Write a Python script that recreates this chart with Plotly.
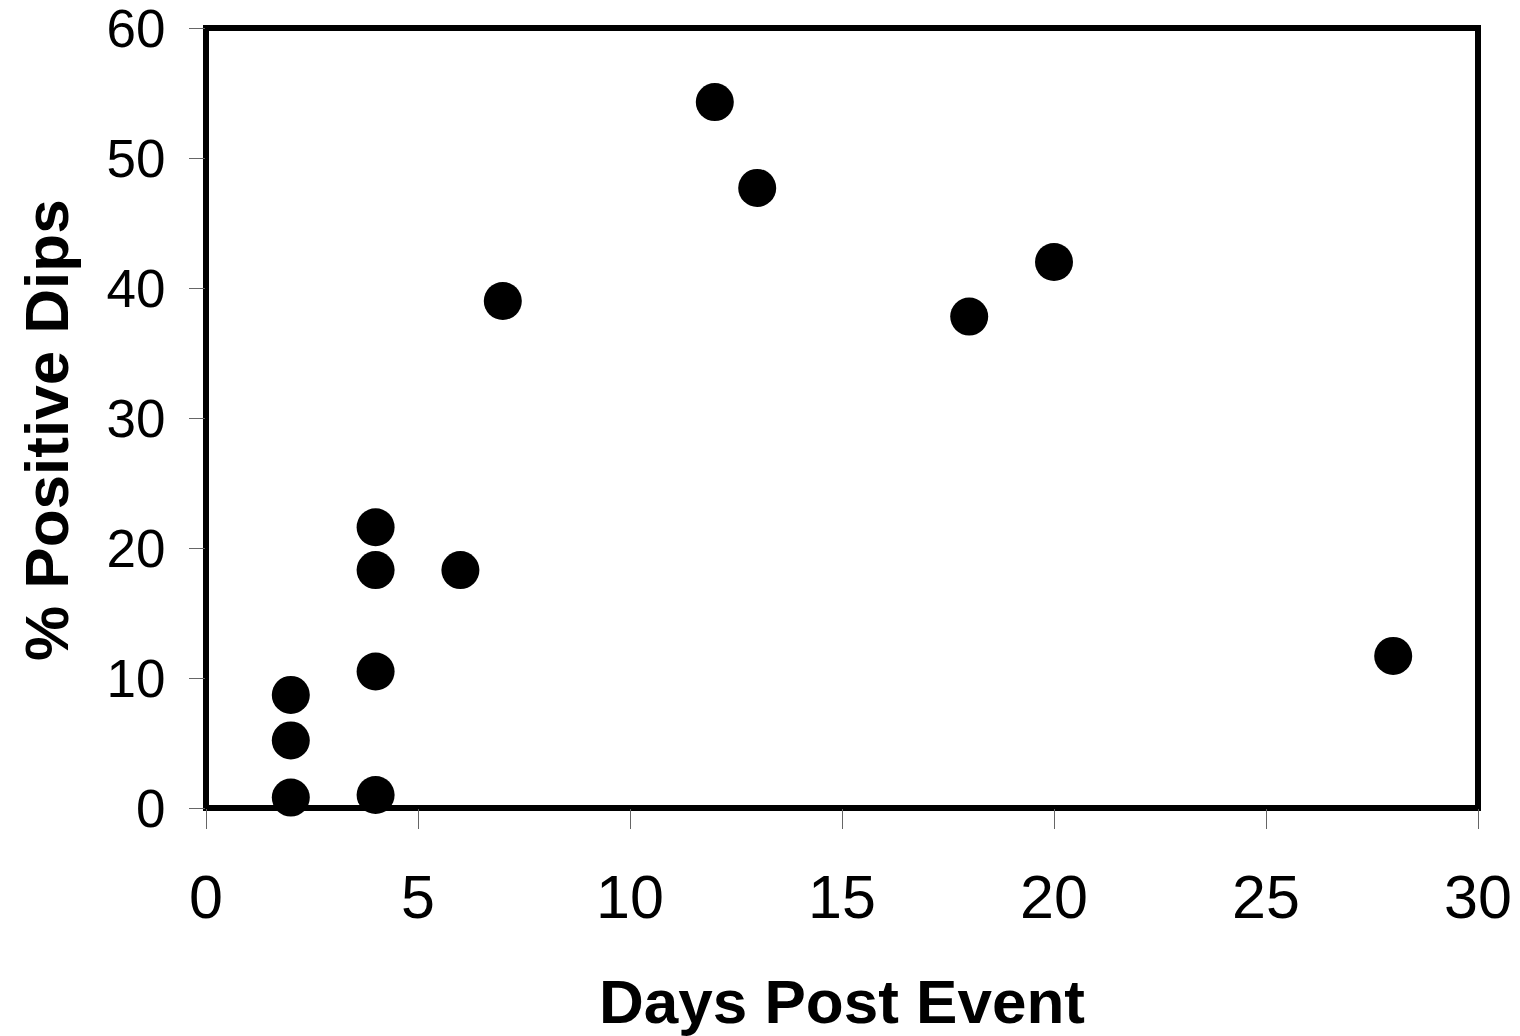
import plotly.graph_objects as go

days = [2, 2, 2, 4, 4, 4, 4, 6, 7, 12, 13, 18, 20, 28]
pct_positive = [0.8, 5.2, 8.7, 1.0, 10.5, 18.3, 21.6, 18.3, 39.0, 54.3, 47.7, 37.8, 42.0, 11.7]
x_ticks = [0, 5, 10, 15, 20, 25, 30]
y_ticks = [0, 10, 20, 30, 40, 50, 60]
x_title = "Days Post Event"
y_title = "% Positive Dips"

FONT = "Liberation Sans, Arial, sans-serif"

fig = go.Figure()
fig.add_trace(go.Scatter(
    x=days, y=pct_positive, mode="markers",
    marker=dict(size=38, color="black", line=dict(width=0)),
    showlegend=False, cliponaxis=False,
))

fig.update_layout(
    width=1520, height=1036,
    margin=dict(l=206, r=42, t=28, b=228, autoexpand=False),
    paper_bgcolor="white", plot_bgcolor="white",
    font=dict(family=FONT, color="black"),
    xaxis=dict(
        range=[0, 30], tickvals=x_ticks, showgrid=False, zeroline=False, showline=False,
        ticks="outside", ticklen=20, tickwidth=1, tickcolor="#666666",
        tickfont=dict(size=61, family=FONT, color="black"), ticklabelstandoff=16,
        ticklabeloverflow="allow",
        title=dict(text="<b>" + x_title + "</b>", font=dict(size=62, family=FONT, color="black"), standoff=56),
        automargin=False,
    ),
    yaxis=dict(
        range=[0, 60], tickvals=y_ticks, showgrid=False, zeroline=False, showline=False,
        ticks="outside", ticklen=16, tickwidth=1, tickcolor="#666666",
        tickfont=dict(size=53, family=FONT, color="black"), ticklabelstandoff=13,
        ticklabeloverflow="allow",
        automargin=False,
    ),
    annotations=[dict(
        text="<b>" + y_title + "</b>", textangle=-90, showarrow=False,
        xref="paper", yref="paper", x=0, y=0.5, xanchor="center", yanchor="middle",
        xshift=-160, yshift=-12,
        font=dict(size=62, family=FONT, color="black"),
    )],
    shapes=[dict(type="rect", xref="paper", yref="paper", x0=0, y0=0, x1=1, y1=1,
                 line=dict(color="black", width=6), layer="below")],
)

fig.write_html("out.html")
